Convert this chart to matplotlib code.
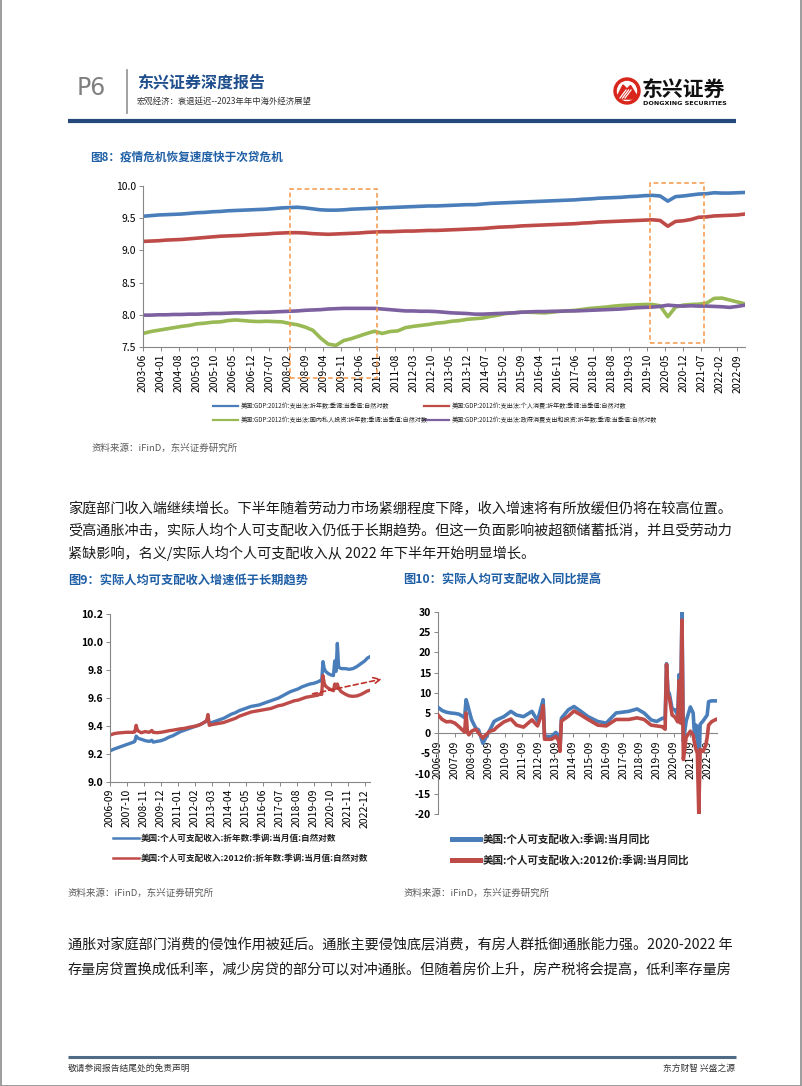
import matplotlib
matplotlib.use("Agg")
import matplotlib.pyplot as plt
from matplotlib.patches import Circle, Polygon, Rectangle

plt.rcParams["font.family"] = ["Noto Sans CJK SC", "DejaVu Sans"]
plt.rcParams["axes.unicode_minus"] = False

W, H = 802, 1086

BLUE = "#4A7EBB"
RED = "#BE4B48"
GREEN = "#98B954"
PURPLE = "#7D60A0"
ORANGE = "#F79646"
TITLE_BLUE = "#1F5FA6"
AXIS_GRAY = "#868686"

# ---- 图8: GDP components, quarterly 2003Q2..2022Q4, natural log ----
gdp_total = [
    9.530, 9.540, 9.550,
    9.555, 9.560, 9.565, 9.575,
    9.585, 9.590, 9.600, 9.605,
    9.615, 9.620, 9.625, 9.630,
    9.635, 9.640, 9.650, 9.660,
    9.665, 9.670, 9.660, 9.645,
    9.630, 9.625, 9.625, 9.630,
    9.640, 9.645, 9.650, 9.655,
    9.660, 9.665, 9.670, 9.675,
    9.680, 9.685, 9.690, 9.690,
    9.695, 9.700, 9.705, 9.710,
    9.710, 9.720, 9.730, 9.735,
    9.740, 9.745, 9.750, 9.755,
    9.760, 9.765, 9.770, 9.775,
    9.780, 9.785, 9.795, 9.800,
    9.810, 9.815, 9.820, 9.825,
    9.835, 9.840, 9.850, 9.855,
    9.845, 9.765, 9.835, 9.845,
    9.860, 9.875, 9.880, 9.895,
    9.890, 9.890, 9.895, 9.900,
]
gdp_consumption = [
    9.140, 9.145, 9.150,
    9.160, 9.165, 9.170, 9.180,
    9.190, 9.200, 9.210, 9.220,
    9.225, 9.230, 9.235, 9.245,
    9.250, 9.255, 9.265, 9.270,
    9.275, 9.275, 9.270, 9.260,
    9.255, 9.250, 9.255, 9.260,
    9.265, 9.270, 9.280, 9.285,
    9.290, 9.290, 9.295, 9.300,
    9.300, 9.305, 9.310, 9.310,
    9.315, 9.320, 9.325, 9.330,
    9.335, 9.340, 9.350, 9.360,
    9.365, 9.370, 9.380, 9.385,
    9.390, 9.395, 9.400, 9.405,
    9.410, 9.415, 9.425, 9.430,
    9.440, 9.445, 9.450, 9.455,
    9.460, 9.465, 9.470, 9.475,
    9.465, 9.375, 9.450, 9.460,
    9.480, 9.515, 9.520, 9.535,
    9.540, 9.545, 9.550, 9.565,
]
gdp_investment = [
    7.710, 7.740, 7.760,
    7.780, 7.800, 7.820, 7.835,
    7.860, 7.870, 7.885, 7.890,
    7.910, 7.920, 7.910, 7.900,
    7.895, 7.900, 7.895, 7.890,
    7.865, 7.845, 7.810, 7.760,
    7.640, 7.545, 7.525, 7.600,
    7.630, 7.670, 7.710, 7.745,
    7.710, 7.740, 7.750, 7.800,
    7.820, 7.835, 7.850, 7.870,
    7.880, 7.900, 7.910, 7.930,
    7.940, 7.950, 7.975, 7.995,
    8.020, 8.030, 8.040, 8.040,
    8.035, 8.030, 8.040, 8.055,
    8.060, 8.070, 8.085, 8.100,
    8.110, 8.120, 8.135, 8.145,
    8.150, 8.155, 8.160, 8.160,
    8.140, 7.970, 8.120, 8.150,
    8.160, 8.165, 8.180, 8.255,
    8.260, 8.230, 8.200, 8.170,
]
gdp_government = [
    7.995, 7.995, 8.000,
    8.000, 8.005, 8.005, 8.010,
    8.010, 8.015, 8.020, 8.020,
    8.025, 8.030, 8.030, 8.035,
    8.040, 8.040, 8.045, 8.050,
    8.055, 8.060, 8.070, 8.075,
    8.080, 8.090, 8.095, 8.100,
    8.100, 8.100, 8.100, 8.100,
    8.090, 8.080, 8.070, 8.060,
    8.060, 8.055, 8.055, 8.050,
    8.040, 8.030, 8.025, 8.020,
    8.010, 8.010, 8.015, 8.020,
    8.025, 8.030, 8.040, 8.045,
    8.050, 8.050, 8.055, 8.055,
    8.060, 8.060, 8.065, 8.070,
    8.075, 8.080, 8.085, 8.090,
    8.100, 8.110, 8.115, 8.120,
    8.130, 8.150, 8.140, 8.135,
    8.140, 8.135, 8.135, 8.130,
    8.125, 8.115, 8.130, 8.150,
]
fig8_ticks = [
    "2003-06", "2004-01", "2004-08", "2005-03", "2005-10", "2006-05", "2006-12",
    "2007-07", "2008-02", "2008-09", "2009-04", "2009-11", "2010-06", "2011-01",
    "2011-08", "2012-03", "2012-10", "2013-05", "2013-12", "2014-07", "2015-02",
    "2015-09", "2016-04", "2016-11", "2017-06", "2018-01", "2018-08", "2019-03",
    "2019-10", "2020-05", "2020-12", "2021-07", "2022-02", "2022-09",
]
fig8_labels = [
    "美国:GDP:2012价:支出法:折年数:季调:当季值:自然对数",
    "美国:GDP:2012价:支出法:个人消费:折年数:季调:当季值:自然对数",
    "美国:GDP:2012价:支出法:国内私人投资:折年数:季调:当季值:自然对数",
    "美国:GDP:2012价:支出法:政府消费支出和投资:折年数:季调:当季值:自然对数",
]
# highlighted crisis windows: (start month, end month, top, bottom)
fig8_boxes = [("2008-03", "2011-01", 9.95, 7.02), ("2019-11", "2021-08", 10.04, 7.56)]

# ---- 图9: disposable income level (log) ----
fig9_dates = [
    "2006-09", "2006-12", "2007-03", "2007-06", "2007-09", "2007-12", "2008-03", "2008-04",
    "2008-05", "2008-06", "2008-07", "2008-09", "2008-12", "2009-03", "2009-05", "2009-06",
    "2009-09", "2009-12", "2010-03", "2010-06", "2010-09", "2010-12", "2011-03", "2011-06",
    "2011-09", "2011-12", "2012-03", "2012-06", "2012-09", "2012-11", "2012-12", "2013-01",
    "2013-03", "2013-06", "2013-09", "2013-12", "2014-03", "2014-06", "2014-09", "2014-12",
    "2015-03", "2015-06", "2015-09", "2015-12", "2016-03", "2016-06", "2016-09", "2016-12",
    "2017-03", "2017-06", "2017-09", "2017-12", "2018-03", "2018-06", "2018-09", "2018-12",
    "2019-03", "2019-06", "2019-09", "2019-12", "2020-02", "2020-03", "2020-04", "2020-05",
    "2020-06", "2020-08", "2020-10", "2020-12", "2021-01", "2021-02", "2021-03", "2021-04",
    "2021-06", "2021-09", "2021-12", "2022-03", "2022-06", "2022-09", "2022-12", "2023-02",
    "2023-04",
]
fig9_nominal = [
    9.222, 9.235, 9.245, 9.255, 9.265, 9.275, 9.285, 9.290,
    9.328, 9.318, 9.310, 9.305, 9.295, 9.290, 9.298, 9.285,
    9.290, 9.295, 9.305, 9.320, 9.330, 9.345, 9.360, 9.370,
    9.380, 9.390, 9.400, 9.410, 9.425, 9.435, 9.460, 9.418,
    9.425, 9.435, 9.445, 9.455, 9.470, 9.485, 9.495, 9.510,
    9.520, 9.530, 9.540, 9.545, 9.550, 9.560, 9.570, 9.580,
    9.590, 9.600, 9.615, 9.630, 9.645, 9.655, 9.665, 9.680,
    9.690, 9.700, 9.705, 9.715, 9.725, 9.720, 9.860, 9.810,
    9.790, 9.775, 9.765, 9.760, 9.865, 9.790, 9.990, 9.820,
    9.810, 9.810, 9.805, 9.810, 9.825, 9.845, 9.865, 9.885,
    9.895,
]
fig9_real = [
    9.335, 9.345, 9.350, 9.352, 9.355, 9.355, 9.355, 9.358,
    9.405, 9.370, 9.362, 9.352, 9.360, 9.355, 9.368, 9.355,
    9.352, 9.355, 9.360, 9.366, 9.370, 9.375, 9.380, 9.383,
    9.390, 9.395, 9.400, 9.410, 9.425, 9.440, 9.482, 9.405,
    9.410, 9.415, 9.420, 9.425, 9.435, 9.445, 9.455, 9.470,
    9.480, 9.490, 9.500, 9.505, 9.510, 9.515, 9.520, 9.525,
    9.535, 9.545, 9.550, 9.560, 9.570, 9.580, 9.585, 9.595,
    9.605, 9.610, 9.615, 9.620, 9.630, 9.625, 9.760, 9.705,
    9.685, 9.670, 9.660, 9.652, 9.700, 9.670, 9.700, 9.668,
    9.645, 9.628, 9.615, 9.612, 9.615, 9.625, 9.640, 9.650,
    9.655,
]
fig9_ticks = [
    "2006-09", "2007-10", "2008-11", "2009-12", "2011-01", "2012-02", "2013-03", "2014-04",
    "2015-05", "2016-06", "2017-07", "2018-08", "2019-09", "2020-10", "2021-11", "2022-12",
]
fig9_labels = [
    "美国:个人可支配收入:折年数:季调:当月值:自然对数",
    "美国:个人可支配收入:2012价:折年数:季调:当月值:自然对数",
]
# long-term trend arrow drawn on the real series
fig9_trend = [("2019-08", 9.630), ("2024-01", 9.735)]

# ---- 图10: disposable income YoY (%) ----
fig10_dates = [
    "2006-09", "2006-12", "2007-03", "2007-06", "2007-09", "2007-12", "2008-03", "2008-04",
    "2008-05", "2008-06", "2008-07", "2008-09", "2008-12", "2009-02", "2009-05", "2009-07",
    "2009-10", "2010-01", "2010-03", "2010-08", "2011-01", "2011-05", "2011-10", "2012-04",
    "2012-08", "2012-11", "2012-12", "2013-01", "2013-06", "2013-09", "2013-11", "2013-12",
    "2014-01", "2014-06", "2014-10", "2015-03", "2015-08", "2016-03", "2016-09", "2017-04",
    "2018-01", "2018-07", "2018-12", "2019-05", "2019-09", "2020-01", "2020-03", "2020-04",
    "2020-05", "2020-06", "2020-08", "2020-10", "2020-12", "2021-01", "2021-02", "2021-03",
    "2021-04", "2021-06", "2021-09", "2021-11", "2021-12", "2022-01", "2022-02", "2022-03",
    "2022-04", "2022-06", "2022-08", "2022-09", "2022-10", "2022-12", "2023-02", "2023-04",
]
fig10_nominal = [
    6.4, 5.6, 5.2, 5.0, 4.9, 4.7, 4.1, 3.8,
    8.3, 7.2, 5.8, 3.3, 1.2, 0.8, -2.5, -1.2,
    0.8, 2.9, 3.3, 4.1, 5.4, 4.5, 4.1, 5.4,
    3.1, 7.0, 8.3, -0.8, -0.8, 0.2, -0.5, -4.0,
    3.7, 5.8, 6.6, 5.4, 4.1, 2.9, 2.5, 5.0,
    5.4, 6.0, 5.0, 3.3, 2.9, 3.7, 3.5, 17.2,
    10.5, 9.8, 6.0, 5.8, 4.5, 14.5, 5.0, 30.0,
    -2.0, 3.0, 6.5, 5.0, -1.0, 2.0, 1.5, -11.0,
    2.2, 3.0, 4.0, 4.5, 7.8, 8.0, 8.0, 8.0,
]
fig10_real = [
    4.5, 3.4, 2.8, 2.9, 2.5, 1.6, 0.6, 0.3,
    5.0, 0.2, -0.4, 0.5, 1.0, 0.0, -1.2, -0.5,
    0.5, 0.8, 1.5, 2.8, 3.5, 2.0, 1.5, 3.3,
    1.8, 4.8, 6.8, -1.5, -1.5, -0.8, -1.8, -4.5,
    3.0, 4.2, 5.5, 4.5, 3.4, 2.0, 1.8, 3.4,
    3.4, 3.8, 3.4, 2.0, 1.8, 1.6, 1.0, 17.0,
    9.5, 8.8, 4.5, 4.0, 2.8, 13.0, 2.5, 28.0,
    -6.5, -1.0, 0.5, -0.5, -2.5, -4.0, -5.0, -20.0,
    -4.0, -4.5, -3.0, -1.0, 2.0, 2.8, 3.2, 3.5,
]
fig10_ticks = ["%d-09" % y for y in range(2006, 2023)]
fig10_labels = [
    "美国:个人可支配收入:季调:当月同比",
    "美国:个人可支配收入:2012价:季调:当月同比",
]

para1 = [
    "家庭部门收入端继续增长。下半年随着劳动力市场紧绷程度下降，收入增速将有所放缓但仍将在较高位置。",
    "受高通胀冲击，实际人均个人可支配收入仍低于长期趋势。但这一负面影响被超额储蓄抵消，并且受劳动力",
    "紧缺影响，名义/实际人均个人可支配收入从 2022 年下半年开始明显增长。",
]
para2 = [
    "通胀对家庭部门消费的侵蚀作用被延后。通胀主要侵蚀底层消费，有房人群抵御通胀能力强。2020-2022 年",
    "存量房贷置换成低利率，减少房贷的部分可以对冲通胀。但随着房价上升，房产税将会提高，低利率存量房",
]


def mi(s, base):
    y, m = map(int, s.split("-"))
    by, bm = map(int, base.split("-"))
    return (y - by) * 12 + (m - bm)


def rect(x0, y0, x1, y1):
    return [x0 / W, 1 - y1 / H, (x1 - x0) / W, (y1 - y0) / H]


def style_axes(ax):
    for side in ("top", "right"):
        ax.spines[side].set_visible(False)
    for side in ("left", "bottom"):
        ax.spines[side].set_color(AXIS_GRAY)
        ax.spines[side].set_linewidth(0.8)
    ax.set_facecolor("none")
    ax.tick_params(axis="both", direction="out", length=3, width=0.7, color=AXIS_GRAY, pad=2)
    ax.tick_params(axis="x", labelrotation=90, labelsize=7.5)


fig = plt.figure(figsize=(W / 100, H / 100), dpi=100)

# page layer in pixel coordinates
pg = fig.add_axes([0, 0, 1, 1])
pg.set_xlim(0, W)
pg.set_ylim(H, 0)
pg.axis("off")

pg.add_patch(Rectangle((0.5, -2), W - 1.5, H + 1.5, fill=False, ec="#8c8c8c", lw=1.2))

# header
pg.text(77, 88, "P6", fontsize=17, color="#7f7f7f", va="center", ha="left", family="DejaVu Sans")
pg.plot([127, 127], [70, 113], color="#9a9a9a", lw=1.3)
pg.text(137, 82, "东兴证券深度报告", fontsize=11.5, fontweight="bold", color="#1E4E8C", va="center")
pg.text(137, 101, "宏观经济：衰退延迟--2023年年中海外经济展望", fontsize=6, color="#333333", va="center")
pg.plot([68, 736], [121, 121], color="#24497a", lw=3, solid_capstyle="butt")

# logo
pg.add_patch(Circle((627, 91), 13, color="#D9261C"))
pg.add_patch(Circle((627, 91), 9.5, color="white"))
pg.add_patch(Polygon([(617.5, 96), (623, 85), (627, 89), (630.5, 85.5), (637, 96), (633, 99), (621, 99)],
                     closed=True, color="#D9261C"))
for k in range(3):
    pg.plot([620 + 2.5 * k, 626 + 2.5 * k], [98, 90], color="white", lw=0.9)
pg.text(642, 89, "东兴证券", fontsize=15, fontweight="bold", color="#111111", va="center")
pg.text(643, 103.5, "DONGXING SECURITIES", fontsize=4.6, fontweight="bold", color="#111111",
        va="center", family="DejaVu Sans")

# figure titles
pg.text(90, 157, "图8：疫情危机恢复速度快于次贷危机", fontsize=8.4, fontweight="bold", color=TITLE_BLUE, va="center")
pg.text(68, 580, "图9：实际人均可支配收入增速低于长期趋势", fontsize=8.8, fontweight="bold", color=TITLE_BLUE, va="center")
pg.text(403, 580, "图10：实际人均可支配收入同比提高", fontsize=8.8, fontweight="bold", color=TITLE_BLUE, va="center")

# body text
for i, line in enumerate(para1):
    pg.text(68, 509 + 22 * i, line, fontsize=10.2, color="#1a1a1a", va="center")
for i, line in enumerate(para2):
    pg.text(68, 945 + 25 * i, line, fontsize=10.2, color="#1a1a1a", va="center")

# sources
for x, y in [(91, 448), (68, 893), (403, 893)]:
    pg.text(x, y, "资料来源：iFinD，东兴证券研究所", fontsize=6.8, color="#5a5a5a", va="center")

# footer
pg.plot([68, 736], [1057, 1057], color="#4F6B85", lw=2.2, solid_capstyle="butt")
pg.text(68, 1068, "敬请参阅报告结尾处的免责声明", fontsize=6.3, color="#333333", va="center")
pg.text(735, 1068, "东方财智 兴盛之源", fontsize=6.3, color="#333333", va="center", ha="right")

# ---------------- 图8 ----------------
ax1 = fig.add_axes(rect(143, 186, 745, 347))
style_axes(ax1)
base8 = "2003-06"
q_x = [3 * i for i in range(len(gdp_total))]
series8 = [gdp_total, gdp_consumption, gdp_investment, gdp_government]
colors8 = [BLUE, RED, GREEN, PURPLE]
for vals, c in zip(series8, colors8):
    ax1.plot(q_x, vals, color=c, lw=2.6, solid_joinstyle="round")
ax1.set_xlim(0, 234)
ax1.set_ylim(7.5, 10.0)
ax1.set_yticks([7.5, 8.0, 8.5, 9.0, 9.5, 10.0])
ax1.set_yticklabels(["%.1f" % v for v in [7.5, 8.0, 8.5, 9.0, 9.5, 10.0]])
ax1.tick_params(axis="y", labelsize=7.5)
ax1.set_xticks([mi(t, base8) for t in fig8_ticks])
ax1.set_xticklabels(fig8_ticks)
for s, e, top, bot in fig8_boxes:
    x0, x1 = mi(s, base8), mi(e, base8)
    ax1.add_patch(Rectangle((x0, bot), x1 - x0, top - bot, fill=False, ec=ORANGE,
                            lw=1.1, ls=(0, (3, 2)), clip_on=False, zorder=5))

# legend 8 (two columns)
leg_pos = [(213, 406), (424, 406), (213, 420), (424, 420)]
for (lx, ly), c, lab in zip(leg_pos, colors8, fig8_labels):
    pg.plot([lx, lx + 25], [ly, ly], color=c, lw=1.6)
    pg.text(lx + 28, ly, lab, fontsize=4.4, color="#222222", va="center")

# ---------------- 图9 ----------------
ax2 = fig.add_axes(rect(110, 614, 370, 782))
style_axes(ax2)
base9 = "2006-09"
x9 = [mi(d, base9) for d in fig9_dates]
ax2.plot(x9, fig9_nominal, color=BLUE, lw=2.4)
ax2.plot(x9, fig9_real, color=RED, lw=2.4)
ax2.set_xlim(0, 199)
ax2.set_ylim(9.0, 10.2)
yt9 = [9.0, 9.2, 9.4, 9.6, 9.8, 10.0, 10.2]
ax2.set_yticks(yt9)
ax2.set_yticklabels(["%.1f" % v for v in yt9], fontweight="bold")
ax2.tick_params(axis="y", labelsize=7.5)
ax2.set_xticks([mi(t, base9) for t in fig9_ticks])
ax2.set_xticklabels(fig9_ticks)
(ts, tv0), (te, tv1) = fig9_trend
ax2.annotate("", xy=(mi(te, base9), tv1), xytext=(mi(ts, base9), tv0), annotation_clip=False,
             arrowprops=dict(arrowstyle="->", color="#C0302A", lw=1.2, ls=(0, (3, 2)),
                             shrinkA=0, shrinkB=0, mutation_scale=12))

for ly, c, lab in zip([838, 858], [BLUE, RED], fig9_labels):
    pg.plot([113, 139], [ly, ly], color=c, lw=1.8)
    pg.text(141, ly, lab, fontsize=6.2, fontweight="bold", color="#222222", va="center")

# ---------------- 图10 ----------------
ax3 = fig.add_axes(rect(438, 612, 717, 814))
style_axes(ax3)
x10 = [mi(d, base9) for d in fig10_dates]
ax3.plot(x10, fig10_nominal, color=BLUE, lw=2.6, zorder=3)
ax3.plot(x10, fig10_real, color=RED, lw=2.6, zorder=3)
ax3.set_xlim(0, 199)
ax3.set_ylim(-20, 30)
yt10 = list(range(-20, 31, 5))
ax3.set_yticks(yt10)
ax3.set_yticklabels([str(v) for v in yt10], fontweight="bold")
ax3.tick_params(axis="y", labelsize=7.5)
ax3.spines["bottom"].set_position(("data", 0))
ax3.set_xticks([mi(t, base9) for t in fig10_ticks])
ax3.set_xticklabels(fig10_ticks)

for ly, c, lab in zip([839, 860], [BLUE, RED], fig10_labels):
    pg.plot([452, 480], [ly, ly], color=c, lw=3.6)
    pg.text(483, ly, lab, fontsize=7.6, fontweight="bold", color="#222222", va="center")

fig.savefig("out.png", dpi=100)
